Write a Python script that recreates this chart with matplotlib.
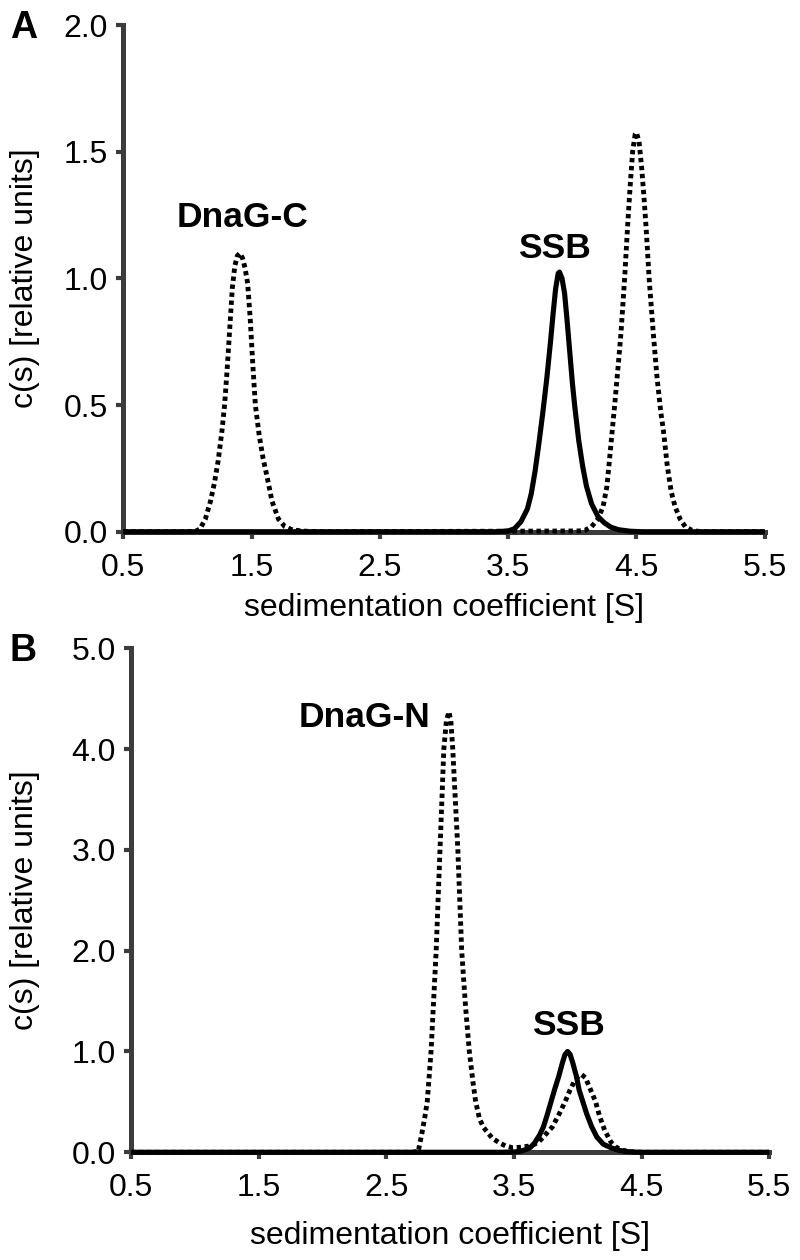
import matplotlib
matplotlib.use("Agg")
from matplotlib import pyplot as plt

plt.rcParams['font.family'] = ['Liberation Sans', 'DejaVu Sans']

# panel A: SSB alone (solid) and DnaG-C + SSB (dotted)
ssb_a_x = [0.5, 3.40, 3.50, 3.55, 3.60, 3.65, 3.68, 3.71, 3.74, 3.77, 3.80, 3.83, 3.85, 3.87, 3.89,
           3.90, 3.92, 3.94, 3.96, 3.98, 4.00, 4.02, 4.05, 4.08, 4.11, 4.15, 4.20, 4.25, 4.30, 4.36,
           4.45, 4.55, 5.5]
ssb_a_y = [0, 0, 0.003, 0.012, 0.04, 0.09, 0.15, 0.24, 0.35, 0.47, 0.60, 0.75, 0.86, 0.96, 1.02,
           1.025, 1.00, 0.94, 0.83, 0.71, 0.59, 0.49, 0.36, 0.26, 0.18, 0.11, 0.06, 0.035, 0.018, 0.008,
           0.002, 0, 0]

dnagc_x = [0.5, 1.00, 1.07, 1.10, 1.14, 1.18, 1.21, 1.24, 1.27, 1.29, 1.31, 1.33, 1.35, 1.37, 1.39,
           1.41, 1.43, 1.45, 1.47, 1.49, 1.51, 1.53, 1.56, 1.59, 1.62, 1.66, 1.71, 1.76, 1.82, 1.92,
           2.05, 3.50, 4.05, 4.10, 4.15, 4.20, 4.24, 4.27, 4.30, 4.33, 4.36, 4.38, 4.41, 4.43, 4.45,
           4.47, 4.49, 4.50, 4.52, 4.54, 4.56, 4.575, 4.60, 4.63, 4.66, 4.69, 4.71, 4.74, 4.77, 4.80,
           4.84, 4.88, 4.93, 5.00, 5.5]
dnagc_y = [0, 0, 0.003, 0.012, 0.05, 0.12, 0.19, 0.28, 0.40, 0.50, 0.64, 0.80, 0.96, 1.05, 1.09,
           1.10, 1.08, 1.04, 0.98, 0.84, 0.66, 0.50, 0.38, 0.29, 0.22, 0.12, 0.05, 0.02, 0.007, 0.002,
           0, 0.002, 0.003, 0.006, 0.02, 0.05, 0.10, 0.18, 0.34, 0.50, 0.67, 0.79, 1.02, 1.20, 1.36,
           1.50, 1.57, 1.576, 1.54, 1.44, 1.31, 1.20, 0.99, 0.79, 0.61, 0.47, 0.40, 0.26, 0.16, 0.10,
           0.05, 0.02, 0.006, 0, 0]

# panel B: SSB alone (solid) and DnaG-N + SSB (dotted)
ssb_b_x = [0.5, 3.40, 3.50, 3.55, 3.60, 3.63, 3.66, 3.70, 3.73, 3.76, 3.79, 3.82, 3.85, 3.88, 3.90,
           3.92, 3.94, 3.96, 3.99, 4.01, 4.04, 4.07, 4.11, 4.15, 4.20, 4.26, 4.32, 4.38, 4.44, 4.50, 5.5]
ssb_b_y = [0, 0, 0.003, 0.01, 0.03, 0.05, 0.09, 0.17, 0.25, 0.37, 0.50, 0.63, 0.75, 0.89, 0.97,
           1.00, 0.97, 0.89, 0.75, 0.62, 0.50, 0.38, 0.25, 0.15, 0.08, 0.045, 0.02, 0.007, 0.002, 0, 0]

dnagn_x = [0.5, 2.70, 2.75, 2.78, 2.80, 2.82, 2.85, 2.87, 2.89, 2.905, 2.92, 2.935, 2.95, 2.97, 2.99,
           3.005, 3.02, 3.04, 3.06, 3.075, 3.09, 3.12, 3.15, 3.18, 3.20, 3.23, 3.26, 3.29, 3.33, 3.39,
           3.44, 3.49, 3.55, 3.61, 3.66, 3.69, 3.73, 3.77, 3.80, 3.85, 3.90, 3.94, 3.98, 4.01, 4.03,
           4.06, 4.10, 4.14, 4.17, 4.21, 4.26, 4.30, 4.35, 4.42, 4.50, 5.5]
dnagn_y = [0, 0, 0.01, 0.20, 0.34, 0.50, 1.00, 1.50, 2.00, 2.50, 3.00, 3.50, 4.00, 4.28, 4.37,
           4.28, 4.00, 3.50, 3.00, 2.50, 2.00, 1.45, 1.00, 0.68, 0.50, 0.33, 0.25, 0.20, 0.14, 0.09,
           0.06, 0.045, 0.05, 0.06, 0.08, 0.10, 0.15, 0.21, 0.25, 0.37, 0.50, 0.62, 0.72, 0.76, 0.77,
           0.74, 0.62, 0.50, 0.36, 0.22, 0.10, 0.05, 0.02, 0.005, 0, 0]

x_ticks = [0.5, 1.5, 2.5, 3.5, 4.5, 5.5]
a_yticks = [0.0, 0.5, 1.0, 1.5, 2.0]
b_yticks = [0.0, 1.0, 2.0, 3.0, 4.0, 5.0]

spine_col = '#3c3c3c'
fs = 23


def style_axes(ax, yticks, ylab_x, xlab_y):
    ax.set_xlim(0.5, 5.5)
    ax.set_ylim(yticks[0], yticks[-1])
    ax.set_xticks(x_ticks)
    ax.set_xticklabels(['%.1f' % t for t in x_ticks])
    ax.set_yticks(yticks)
    ax.set_yticklabels(['%.1f' % t for t in yticks])
    for s in ['top', 'right']:
        ax.spines[s].set_visible(False)
    for s in ['left', 'bottom']:
        ax.spines[s].set_color(spine_col)
        ax.spines[s].set_linewidth(3.6)
    ax.tick_params(axis='both', direction='out', length=5, width=3,
                   color=spine_col, labelsize=fs)
    ax.tick_params(axis='x', pad=10)
    ax.tick_params(axis='y', pad=6)
    ax.set_xlabel('sedimentation coefficient [S]', fontsize=fs)
    ax.set_ylabel('c(s) [relative units]', fontsize=fs)
    ax.yaxis.set_label_coords(ylab_x, 0.5)
    ax.xaxis.set_label_coords(0.5, xlab_y)


def draw(ax, sx, sy, dx, dy):
    ax.plot(dx, dy, color='black', lw=3.5, linestyle=(0, (0.9, 0.75)),
            dash_capstyle='butt', clip_on=False, zorder=3)
    ax.plot(sx, sy, color='black', lw=3.7, solid_capstyle='butt',
            clip_on=False, zorder=4)


fig = plt.figure(figsize=(8, 12.6), dpi=100)
ax1 = fig.add_axes([0.154, 0.578, 0.802, 0.402])
ax2 = fig.add_axes([0.164, 0.0855, 0.7975, 0.400])

draw(ax1, ssb_a_x, ssb_a_y, dnagc_x, dnagc_y)
style_axes(ax1, a_yticks, -0.13, -0.121)
ax1.text(1.43, 1.204, 'DnaG-C', fontsize=25.5, fontweight='bold', ha='center', va='baseline')
ax1.text(3.86, 1.082, 'SSB', fontsize=25.5, fontweight='bold', ha='center', va='baseline')

draw(ax2, ssb_b_x, ssb_b_y, dnagn_x, dnagn_y)
style_axes(ax2, b_yticks, -0.143, -0.136)
ax2.text(2.845, 4.22, 'DnaG-N', fontsize=25.5, fontweight='bold', ha='right', va='baseline')
ax2.text(3.93, 1.164, 'SSB', fontsize=25.5, fontweight='bold', ha='center', va='baseline')

fig.text(0.012, 1 - 38 / 1260, 'A', fontsize=27, fontweight='bold', ha='left', va='baseline')
fig.text(0.012, 1 - 661 / 1260, 'B', fontsize=27, fontweight='bold', ha='left', va='baseline')

fig.savefig('out.png', dpi=100)
